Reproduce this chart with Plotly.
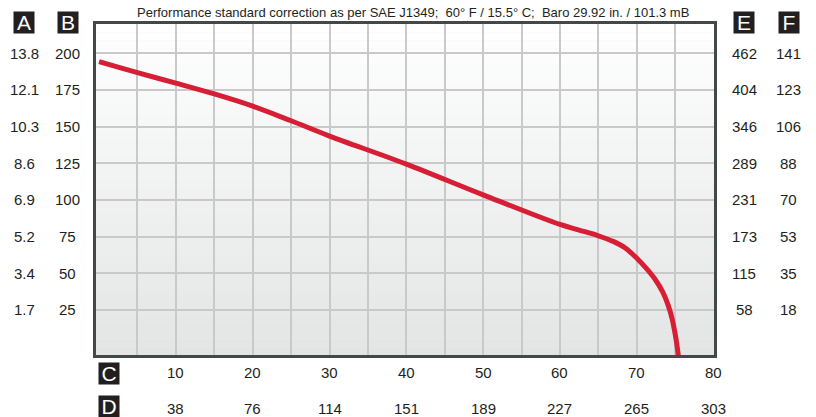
import plotly.graph_objects as go

# ---- data ----
flow_c = [0, 5, 10, 15, 20, 25, 30, 40, 50, 60, 62.5, 65, 67, 68.5, 70, 71.3, 72.4,
          73.4, 74.1, 74.6, 75.0, 75.2, 75.4]
head_b = [194.3, 186.8, 179.7, 172.3, 164.0, 154.0, 143.6, 124.5, 103.5, 83.3, 79.5,
          75.6, 71.6, 67.3, 60.3, 53.0, 45.8, 37.0, 28.0, 19.0, 8.5, 2.0, -6]

b_ticks = [200, 175, 150, 125, 100, 75, 50, 25]
a_labels = ["13.8", "12.1", "10.3", "8.6", "6.9", "5.2", "3.4", "1.7"]
e_labels = ["462", "404", "346", "289", "231", "173", "115", "58"]
f_labels = ["141", "123", "106", "88", "70", "53", "35", "18"]
c_ticks = [10, 20, 30, 40, 50, 60, 70, 80]
d_labels = ["38", "76", "114", "151", "189", "227", "265", "303"]

title_text = ("Performance standard correction as per SAE J1349;\u00a0 60° F / 15.5° C;\u00a0 "
              "Baro 29.92 in. / 101.3 mB")

# ---- layout geometry ----
W, H = 816, 417
ML, MR, MT, MB = 96, 102, 24, 62
PW = W - ML - MR
PH = H - MT - MB


def px_x(px):
    return (px - ML) / PW


def px_y(py):
    return (H - MB - py) / PH


FONT = "Liberation Sans, Arial, sans-serif"
TXT = "#231f20"

fig = go.Figure()
fig.add_trace(go.Scatter(
    x=flow_c, y=head_b, mode="lines",
    line=dict(color="#d61f35", width=5, shape="spline", smoothing=1.0),
    hoverinfo="skip", showlegend=False,
))

# gradient background strips
shapes = []
n = 40
top = (255, 255, 255)
bot = (227, 228, 228)
for i in range(n):
    t = (i + 0.5) / n  # 0 bottom -> 1 top
    c = tuple(round(bot[k] + (top[k] - bot[k]) * t) for k in range(3))
    shapes.append(dict(type="rect", xref="x domain", yref="y domain",
                       x0=0, x1=1, y0=i / n, y1=(i + 1) / n,
                       fillcolor="rgb(%d,%d,%d)" % c, line=dict(width=0),
                       layer="below"))

ann = []
# title
ann.append(dict(text=title_text, xref="paper", yref="paper", x=px_x(413), y=px_y(13),
                showarrow=False, xanchor="center", yanchor="middle",
                font=dict(family=FONT, size=13, color=TXT)))

# letter boxes
def box(letter, cx, cy):
    return dict(text=letter, xref="paper", yref="paper", x=px_x(cx), y=px_y(cy),
                showarrow=False, xanchor="center", yanchor="middle",
                width=20, height=21, bgcolor="#231f20", borderpad=0,
                font=dict(family=FONT, size=21, color="white"))

ann += [box("A", 23.5, 22.5), box("B", 67.5, 22.5), box("E", 743.5, 22.5),
        box("F", 788.5, 22.5), box("C", 108.5, 373.5), box("D", 108.5, 406)]

lab_font = dict(family=FONT, size=15, color=TXT)
for v, a, e, f in zip(b_ticks, a_labels, e_labels, f_labels):
    for txt, cx in ((a, 24), (str(v), 67.5), (e, 744), (f, 788.5)):
        ann.append(dict(text=txt, xref="paper", yref="y", x=px_x(cx), y=v,
                        showarrow=False, xanchor="center", yanchor="middle",
                        font=lab_font))
for v, d in zip(c_ticks, d_labels):
    ann.append(dict(text=str(v), xref="x", yref="paper", x=v, y=px_y(372.5),
                    showarrow=False, xanchor="center", yanchor="middle", font=lab_font))
    ann.append(dict(text=d, xref="x", yref="paper", x=v, y=px_y(408.5),
                    showarrow=False, xanchor="center", yanchor="middle", font=lab_font))

fig.update_layout(
    width=W, height=H,
    margin=dict(l=ML, r=MR, t=MT, b=MB),
    paper_bgcolor="white", plot_bgcolor="#f0f0f0",
    shapes=shapes, annotations=ann, showlegend=False,
    xaxis=dict(range=[-0.4, 80.05], tickvals=list(range(5, 80, 5)), showticklabels=False,
               ticks="", showgrid=True, gridcolor="#c8c9ca", gridwidth=1.5,
               zeroline=False, showline=True, linecolor="#434848", linewidth=3,
               mirror=True, fixedrange=True),
    yaxis=dict(range=[-5.7, 220], tickvals=b_ticks, showticklabels=False,
               ticks="", showgrid=True, gridcolor="#c8c9ca", gridwidth=1.5,
               zeroline=False, showline=True, linecolor="#434848", linewidth=3,
               mirror=True, fixedrange=True),
)

fig.write_html("out.html", config={"displayModeBar": False},
               post_script="document.body.style.margin='0';document.body.style.padding='0';")
